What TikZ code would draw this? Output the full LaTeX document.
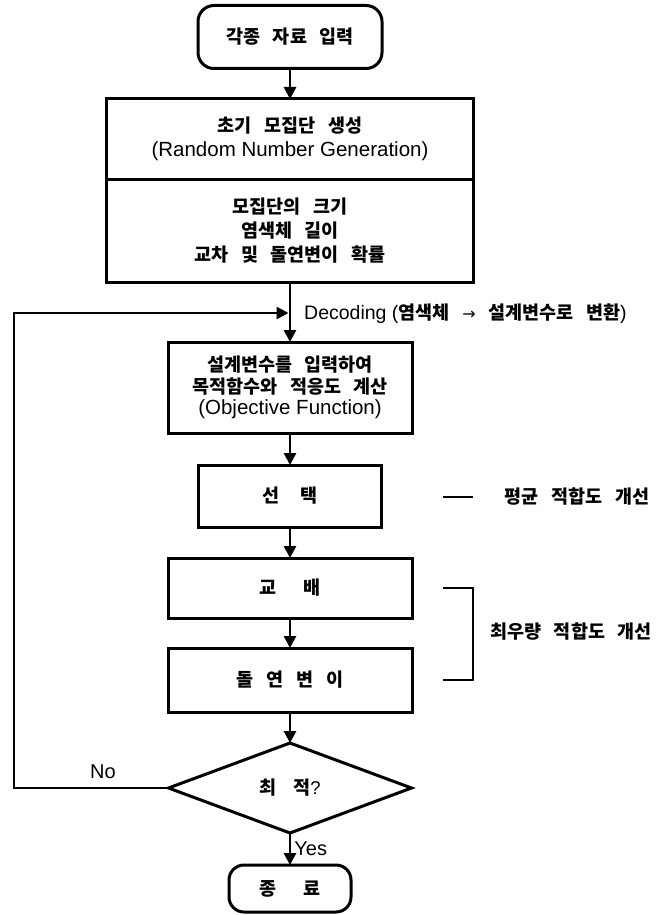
\documentclass[tikz,border=0pt]{standalone}
\usepackage{fontspec}
\setmainfont{Noto Sans CJK KR}[WordSpace=3]
\newfontfamily\latfont{Liberation Sans}
\newfontfamily\arrowfont{DejaVu Sans}
\newcommand\latsf{\latfont\mdseries}
\usetikzlibrary{arrows.meta,shapes.geometric}

\tikzset{
  every node/.style={font=\bfseries\fontsize{18.5}{24}\selectfont},
  box/.style={draw, line width=3pt, rectangle, align=center, inner sep=0pt, outer sep=0pt},
  term/.style={draw, line width=3pt, rectangle, rounded corners=16pt, align=center, inner sep=0pt, outer sep=0pt},
  decision/.style={draw, line width=3pt, diamond, align=center, inner sep=0pt, outer sep=0pt},
  flow/.style={line width=2.8pt, -{Triangle[length=12pt,width=12pt]}},
  wire/.style={line width=2.8pt},
  note/.style={inner sep=0pt},
  latin/.style={font=\latsf\fontsize{20}{24}\selectfont},
}

\begin{document}
\begin{tikzpicture}[x=1pt,y=-1pt]
  \useasboundingbox (0,0) rectangle (660,915);
  \fill[white] (0,0) rectangle (660,915);

  % start
  \node[term, minimum width=184pt, minimum height=63pt] (start) at (290,37) {각종 자료 입력};

  % initial population block (two stacked cells)
  \node[box, minimum width=367pt, minimum height=80pt] (init) at (290,139)
    {초기 모집단 생성\\{\latsf\fontsize{20.5}{24}\selectfont (Random Number Generation)}};
  \node[box, minimum width=367pt, minimum height=103pt, anchor=north] (param) at (init.south)
    {모집단의 크기\\염색체 길이\\교차 및 돌연변이 확률};

  % evaluation
  \node[box, minimum width=244pt, minimum height=91pt, font=\bfseries\fontsize{18.5}{21.5}\selectfont] (obj) at (290,387.5)
    {설계변수를 입력하여\\목적함수와 적응도 계산\\{\latsf\fontsize{20.5}{21.5}\selectfont (Objective Function)}};

  % genetic operators
  \node[box, minimum width=183pt, minimum height=62pt] (sel) at (290,496) {선\hspace{21pt}택};
  \node[box, minimum width=244pt, minimum height=60pt] (cross) at (290,588) {교\hspace{27pt}배};
  \node[box, minimum width=244pt, minimum height=64pt] (mut) at (290,680) {돌 연 변 이};

  % optimum test
  \node[decision, minimum width=243pt, minimum height=90pt] (opt) at (290,788) {최\hspace{17pt}적{\latsf ?}};

  % end
  \node[term, rounded corners=15pt, minimum width=122pt, minimum height=47pt] (end) at (290,888.5) {종\hspace{27pt}료};

  % main flow
  \draw[flow] (start) -- (init);
  \draw[flow] (param) -- (obj);
  \draw[flow] (obj) -- (sel);
  \draw[flow] (sel) -- (cross);
  \draw[flow] (cross) -- (mut);
  \draw[flow] (mut) -- (opt);
  \draw[flow] (opt) -- node[pos=0.48, right, inner sep=3pt, latin] (yes) {Yes} (end);

  % feedback loop
  \coordinate (loopcorner) at (14,313);
  \coordinate (merge) at (288.5,313);
  \draw[flow] (opt.west) -| (loopcorner) -- (merge);
  \node[note, latin] (no) at (103,772) {No};

  % decoding label
  \node[note, anchor=west] (dec) at (304,314)
    {{\latsf\fontsize{19.5}{23}\selectfont Decoding (}염색체 {\arrowfont\mdseries\fontsize{16}{23}\selectfont →} 설계변수로 변환{\latsf\fontsize{19.5}{23}\selectfont )}};

  % annotations
  \coordinate (avgA) at (443,497);
  \coordinate (avgB) at (473,497);
  \draw[wire] (avgA) -- (avgB);
  \node[note] (avg) at (577,497) {평균 적합도 개선};

  \coordinate (brA) at (443,588);
  \coordinate (brB) at (473,588);
  \coordinate (brC) at (473,680);
  \coordinate (brD) at (443,680);
  \draw[wire] (brA) -- (brB) -- (brC) -- (brD);
  \node[note] (best) at (571,632) {최우량 적합도 개선};
\end{tikzpicture}
\end{document}
